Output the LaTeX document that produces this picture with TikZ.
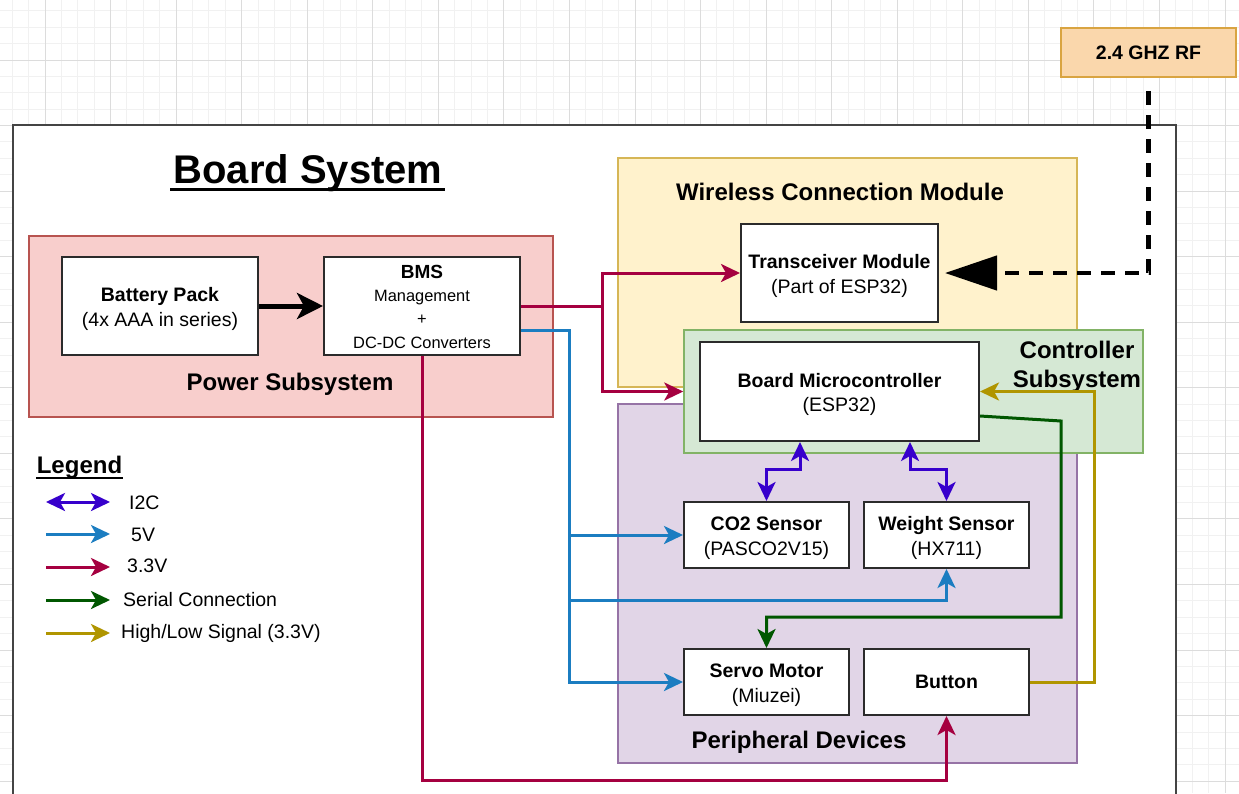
\documentclass[tikz,border=0pt]{standalone}
\usepackage{fontspec}
\setmainfont{Liberation Sans}
\usetikzlibrary{arrows.meta}
\definecolor{c33}{HTML}{A50040}
\definecolor{cfive}{HTML}{1B7DC1}
\definecolor{cser}{HTML}{005700}
\definecolor{chl}{HTML}{B09500}
\definecolor{ciic}{HTML}{3700CC}
\definecolor{boxc}{HTML}{2B2B2B}
\definecolor{framec}{HTML}{444444}
\definecolor{pwrfill}{HTML}{F8CECC}\definecolor{pwrline}{HTML}{B85450}
\definecolor{wlfill}{HTML}{FFF2CC}\definecolor{wlline}{HTML}{D6B656}
\definecolor{pefill}{HTML}{E1D5E7}\definecolor{peline}{HTML}{9673A6}
\definecolor{ctfill}{HTML}{D5E8D4}\definecolor{ctline}{HTML}{82B366}
\definecolor{rffill}{HTML}{FAD7AC}\definecolor{rfline}{HTML}{D9A441}
\definecolor{gridmaj}{HTML}{DCDCDC}\definecolor{gridmin}{HTML}{F1F1F1}
\newcommand\mystrut{\rule{0pt}{20pt}}
\newcommand\bmsfont{\fontsize{16.4}{23.3}\selectfont}
\begin{document}
\begin{tikzpicture}[x=1pt,y=-1pt,
  cont/.style={inner sep=0pt, line width=1.5pt},
  box/.style={draw=boxc, line width=2pt, fill=white, inner sep=0pt, align=center,
    font=\fontsize{19.5}{24.5}\selectfont},
  bigtitle/.style={inner sep=0pt, anchor=base, font=\fontsize{24}{29}\selectfont\bfseries},
  conn/.style={line width=3pt, -{Stealth[length=19pt,width=18pt,inset=5pt]}},
  v33/.style={conn, draw=c33},
  vfive/.style={conn, draw=cfive},
  ser/.style={conn, draw=cser},
  hl/.style={conn, draw=chl},
  iic/.style={line width=3pt, draw=ciic, {Stealth[length=19pt,width=18pt,inset=5pt]}-{Stealth[length=19pt,width=18pt,inset=5pt]}},
  legtext/.style={inner sep=0pt, anchor=base west, font=\fontsize{19.5}{24}\selectfont}
]
\useasboundingbox (0,0) rectangle (1239,793);
\fill[white] (0,0) rectangle (1239,793);
% grid
\foreach \i in {0,...,75} \draw[gridmin, line width=1pt] ({12.22+\i*16.39},0) -- ({12.22+\i*16.39},793);
\foreach \j in {0,...,48} \draw[gridmin, line width=1pt] (0,{10.83+\j*16.39}) -- (1239,{10.83+\j*16.39});
\foreach \i in {0,...,18} \draw[gridmaj, line width=1pt] ({45+\i*65.56},0) -- ({45+\i*65.56},793);
\foreach \j in {0,...,11} \draw[gridmaj, line width=1pt] (0,{60+\j*65.56}) -- (1239,{60+\j*65.56});
% board frame
\fill[white] (13,125) rectangle (1176,800);
\draw[framec, line width=2pt] (13,800) -- (13,125) -- (1176,125) -- (1176,800);

% RF source
\node[draw=rfline, fill=rffill, line width=2pt, minimum width=175pt, minimum height=49pt, inner sep=0pt,
  font=\fontsize{19.5}{24}\selectfont\bfseries] (rf) at (1148.5,52.5) {2.4 GHZ RF};

% title
\node[inner sep=0pt, anchor=base, font=\fontsize{40}{48}\selectfont\bfseries] (title) at (308,183) {Board System};
\draw[line width=3pt] (170,189) -- (445,189);

% containers
\node[cont, draw=pwrline, fill=pwrfill, minimum width=524pt, minimum height=181pt] (power) at (291,326.5) {};
\node[cont, draw=wlline, fill=wlfill, minimum width=459pt, minimum height=229pt] (wireless) at (847.5,272.5) {};
\node[cont, draw=peline, fill=pefill, minimum width=459pt, minimum height=359pt] (periph) at (847.5,583.5) {};
\node[cont, draw=ctline, fill=ctfill, minimum width=459pt, minimum height=123pt] (ctrl) at (913.5,391.5) {};

% container labels
\node[bigtitle] (pwrlabel) at (290,390) {Power Subsystem};
\node[bigtitle] (wllabel) at (840,200.7) {Wireless Connection Module};
\node[bigtitle] (pelabel) at (799,748) {Peripheral Devices};
\node[inner sep=0pt, align=center, font=\fontsize{24}{29}\selectfont\bfseries] (ctlabel) at (1077,366.3) {Controller\\Subsystem};

% boxes
\node[box, minimum width=196pt, minimum height=98pt] (bat) at (160,306) {\mystrut\textbf{Battery Pack}\\(4x AAA in series)};
\node[box, minimum width=196pt, minimum height=98pt, font=\bmsfont] (bms) at (422,306)
  {\rule{0pt}{14.6pt}\fontsize{19}{23.3}\selectfont\bfseries BMS\\\bmsfont Management\\\bmsfont +\\\bmsfont DC-DC Converters};
\node[box, minimum width=197pt, minimum height=98pt] (trans) at (839.5,273) {\mystrut\textbf{Transceiver Module}\\(Part of ESP32)};
\node[box, minimum width=279pt, minimum height=99pt] (mcu) at (839.5,391.5) {\mystrut\textbf{Board Microcontroller}\\(ESP32)};
\node[box, minimum width=165pt, minimum height=66pt] (co2) at (766.5,535) {\mystrut\textbf{CO2 Sensor}\\(PASCO2V15)};
\node[box, minimum width=165pt, minimum height=66pt] (weight) at (946.5,535) {\mystrut\textbf{Weight Sensor}\\(HX711)};
\node[box, minimum width=165pt, minimum height=66pt] (servo) at (766.5,682) {\mystrut\textbf{Servo Motor}\\(Miuzei)};
\node[box, minimum width=165pt, minimum height=66pt] (button) at (946.5,682) {\textbf{Button}};

% helper coordinates
\coordinate (r1) at (602,306);
\coordinate (b1) at (569,330);
\coordinate (w5) at (946.5,600);
\coordinate (rb) at (700,780);
\coordinate (g1) at (1094,500);
\coordinate (s1) at (1061,421);
\coordinate (s2) at (1061,617);
\coordinate (i1) at (766.5,469);
\coordinate (i2) at (946.5,469);

% connectors
\draw[line width=5pt, -{Stealth[length=26pt,width=26pt,inset=7pt]}] (bat) -- (bms);
\draw[line width=4.5pt, dash pattern=on 14pt off 10pt, shorten <=13pt, shorten >=6pt,
  -{Triangle[length=52pt,width=34pt]}] (rf.south) |- (trans.east);
\draw[v33] (bms.east) -- (r1) |- (trans.west);
\draw[v33] (r1) |- (ctrl.west);
\draw[v33] (bms.south) |- (rb) -| (button.south);
\draw[vfive] ([yshift=-24pt]bms.east) -- (b1) |- (co2.west);
\draw[vfive] (b1) |- (servo.west);
\draw[vfive] (b1) |- (w5) -- (weight.south);
\draw[hl] (button.east) -| (g1) |- (mcu.east);
\draw[ser] ([yshift=-24.5pt]mcu.east) -- (s1) -- (s2) -| (servo.north);
\draw[iic] ([xshift=-39.5pt]mcu.south) |- (i1) -- (co2.north);
\draw[iic] ([xshift=70.5pt]mcu.south) |- (i2) -- (weight.north);

% legend
\node[inner sep=0pt, anchor=base, font=\fontsize{24}{29}\selectfont\bfseries] (legend) at (79.5,473.3) {Legend};
\draw[line width=2pt] (36,477.5) -- (123,477.5);
\coordinate (la1) at (46,502); \coordinate (lb1) at (110,502);
\coordinate (la2) at (46,534); \coordinate (lb2) at (110,534);
\coordinate (la3) at (46,567); \coordinate (lb3) at (110,567);
\coordinate (la4) at (46,600); \coordinate (lb4) at (110,600);
\coordinate (la5) at (46,633); \coordinate (lb5) at (110,633);
\draw[iic] (la1) -- (lb1);
\draw[vfive] (la2) -- (lb2);
\draw[v33] (la3) -- (lb3);
\draw[ser] (la4) -- (lb4);
\draw[hl] (la5) -- (lb5);
\node[legtext] (lt1) at (129,509.3) {I2C};
\node[legtext] (lt2) at (131,541.7) {5V};
\node[legtext] (lt3) at (127,572.5) {3.3V};
\node[legtext] (lt4) at (123,606.5) {Serial Connection};
\node[legtext] (lt5) at (121,638.5) {High/Low Signal (3.3V)};
\end{tikzpicture}
\end{document}
